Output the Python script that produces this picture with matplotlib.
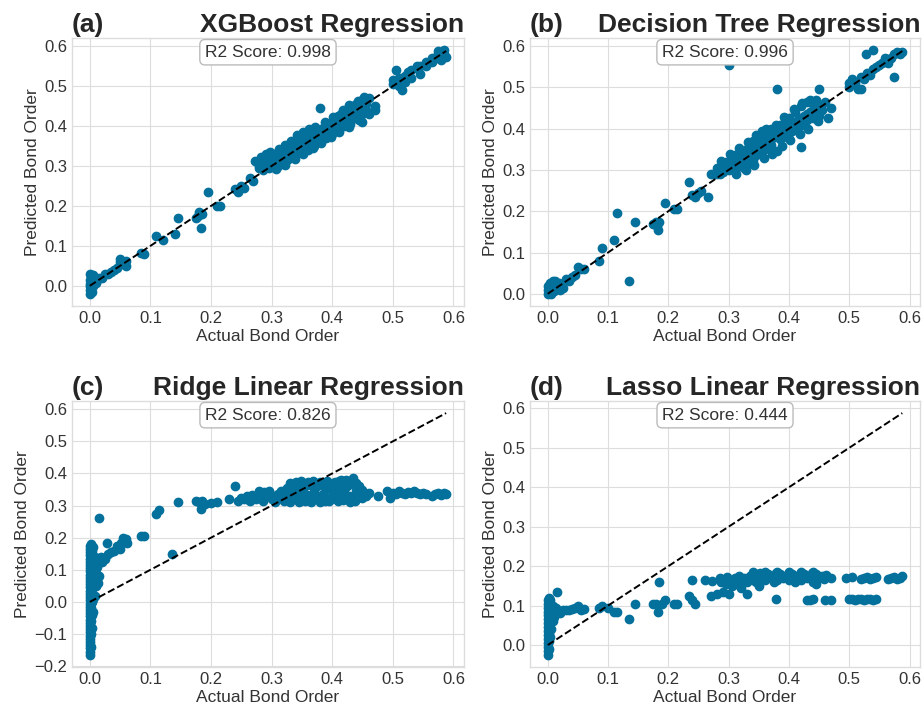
import matplotlib.pyplot as plt
from matplotlib.ticker import MultipleLocator

# (actual, predicted) bond order
xgb_points = [
    (0.000, -0.020), (0.000, -0.010), (0.000, 0.000), (0.001, 0.030), (0.001, 0.015),
    (0.002, -0.005), (0.002, 0.025), (0.003, 0.010), (0.003, -0.015), (0.004, 0.020),
    (0.004, 0.005), (0.005, 0.028), (0.005, 0.000), (0.006, 0.015), (0.006, 0.022),
    (0.007, 0.010), (0.008, 0.020), (0.009, 0.012), (0.010, 0.008), (0.001, 0.005),
    (0.012, 0.015), (0.015, 0.020), (0.020, 0.020), (0.025, 0.030), (0.030, 0.030),
    (0.035, 0.035), (0.040, 0.040), (0.045, 0.045), (0.050, 0.060), (0.050, 0.067),
    (0.055, 0.055), (0.060, 0.050), (0.060, 0.062), (0.085, 0.082), (0.090, 0.080),
    (0.110, 0.125), (0.120, 0.115), (0.140, 0.130), (0.145, 0.170), (0.175, 0.170),
    (0.180, 0.185), (0.178, 0.175), (0.185, 0.180), (0.183, 0.145), (0.195, 0.235),
    (0.210, 0.200), (0.215, 0.200), (0.240, 0.242), (0.245, 0.235), (0.250, 0.250),
    (0.255, 0.245), (0.265, 0.270), (0.270, 0.262), (0.272, 0.312),
    (0.280, 0.300), (0.280, 0.310), (0.280, 0.295), (0.285, 0.305), (0.285, 0.320),
    (0.285, 0.290), (0.290, 0.300), (0.290, 0.315), (0.290, 0.330), (0.295, 0.305),
    (0.295, 0.295), (0.295, 0.320), (0.300, 0.310), (0.300, 0.300), (0.300, 0.325),
    (0.305, 0.305), (0.305, 0.315), (0.305, 0.330), (0.310, 0.310), (0.310, 0.320),
    (0.310, 0.300), (0.315, 0.315), (0.315, 0.325), (0.315, 0.335), (0.320, 0.320),
    (0.320, 0.330), (0.320, 0.310), (0.325, 0.325), (0.325, 0.340), (0.325, 0.315),
    (0.330, 0.330), (0.330, 0.345), (0.330, 0.320), (0.335, 0.335), (0.335, 0.350),
    (0.335, 0.325), (0.340, 0.340), (0.340, 0.355), (0.340, 0.330), (0.340, 0.365),
    (0.345, 0.345), (0.345, 0.360), (0.345, 0.335), (0.345, 0.370), (0.350, 0.350),
    (0.350, 0.365), (0.350, 0.340), (0.350, 0.375), (0.355, 0.355), (0.355, 0.370),
    (0.355, 0.345), (0.360, 0.360), (0.360, 0.370), (0.360, 0.350), (0.360, 0.340),
    (0.365, 0.365), (0.365, 0.375), (0.365, 0.355), (0.370, 0.370), (0.370, 0.380),
    (0.370, 0.360), (0.370, 0.350), (0.375, 0.375), (0.375, 0.385), (0.375, 0.365),
    (0.380, 0.380), (0.380, 0.390), (0.380, 0.370), (0.380, 0.445), (0.385, 0.385),
    (0.385, 0.395), (0.385, 0.375), (0.390, 0.390), (0.390, 0.400), (0.390, 0.380),
    (0.390, 0.370), (0.395, 0.395), (0.395, 0.405), (0.395, 0.385), (0.400, 0.400),
    (0.400, 0.410), (0.400, 0.390), (0.400, 0.380), (0.405, 0.405), (0.405, 0.420),
    (0.405, 0.395), (0.410, 0.410), (0.410, 0.425), (0.410, 0.400), (0.410, 0.390),
    (0.415, 0.415), (0.415, 0.430), (0.415, 0.405), (0.420, 0.420), (0.420, 0.435),
    (0.420, 0.410), (0.420, 0.400), (0.425, 0.425), (0.425, 0.440), (0.425, 0.415),
    (0.430, 0.430), (0.430, 0.445), (0.430, 0.420), (0.430, 0.405), (0.435, 0.435),
    (0.435, 0.450), (0.435, 0.425), (0.440, 0.440), (0.440, 0.455), (0.440, 0.430),
    (0.440, 0.420), (0.445, 0.445), (0.445, 0.460), (0.445, 0.435), (0.450, 0.450),
    (0.450, 0.465), (0.450, 0.430), (0.450, 0.410), (0.455, 0.455), (0.455, 0.440),
    (0.460, 0.470), (0.460, 0.430), (0.470, 0.450), (0.470, 0.440),
    (0.282, 0.322), (0.298, 0.335), (0.312, 0.342), (0.322, 0.352), (0.332, 0.362),
    (0.342, 0.378), (0.352, 0.385), (0.362, 0.392), (0.372, 0.398), (0.388, 0.410),
    (0.402, 0.422), (0.418, 0.440), (0.428, 0.452), (0.442, 0.462), (0.452, 0.472),
    (0.308, 0.292), (0.322, 0.302), (0.338, 0.318), (0.352, 0.330), (0.368, 0.345),
    (0.382, 0.358), (0.398, 0.372), (0.412, 0.385), (0.428, 0.398), (0.445, 0.415),
    (0.500, 0.515), (0.500, 0.505), (0.505, 0.510), (0.505, 0.540), (0.510, 0.500),
    (0.510, 0.520), (0.515, 0.520), (0.515, 0.490), (0.520, 0.525), (0.520, 0.510),
    (0.525, 0.530), (0.525, 0.535), (0.530, 0.540), (0.530, 0.520), (0.540, 0.545),
    (0.540, 0.550), (0.545, 0.550), (0.545, 0.530), (0.555, 0.560), (0.555, 0.550),
    (0.565, 0.570), (0.565, 0.560), (0.575, 0.580), (0.575, 0.587), (0.575, 0.570),
    (0.580, 0.575), (0.580, 0.565), (0.585, 0.590), (0.585, 0.580), (0.588, 0.572),
]

tree_points = [
    (0.000, 0.000), (0.000, 0.010), (0.001, 0.020), (0.002, 0.005), (0.003, 0.015),
    (0.004, 0.025), (0.005, 0.010), (0.006, 0.000), (0.007, 0.020), (0.008, 0.030),
    (0.009, 0.015), (0.010, 0.025), (0.011, 0.008), (0.012, 0.030), (0.014, 0.018),
    (0.015, 0.015), (0.018, 0.025), (0.020, 0.010), (0.020, 0.020), (0.025, 0.015),
    (0.030, 0.035), (0.035, 0.030), (0.040, 0.040), (0.045, 0.045), (0.050, 0.065),
    (0.055, 0.060), (0.060, 0.060), (0.085, 0.080), (0.090, 0.110), (0.110, 0.130),
    (0.115, 0.195), (0.135, 0.030), (0.145, 0.175), (0.175, 0.170), (0.180, 0.175),
    (0.182, 0.165), (0.183, 0.155), (0.185, 0.175), (0.195, 0.220), (0.210, 0.205),
    (0.215, 0.205), (0.235, 0.270), (0.240, 0.240), (0.245, 0.235), (0.250, 0.245),
    (0.255, 0.250), (0.265, 0.235), (0.270, 0.290), (0.275, 0.290),
    (0.280, 0.290), (0.280, 0.305), (0.285, 0.300), (0.285, 0.290), (0.290, 0.310),
    (0.290, 0.295), (0.295, 0.305), (0.295, 0.320), (0.300, 0.300), (0.300, 0.315),
    (0.300, 0.555), (0.305, 0.310), (0.305, 0.325), (0.310, 0.300), (0.310, 0.320),
    (0.310, 0.335), (0.315, 0.315), (0.315, 0.330), (0.320, 0.310), (0.320, 0.325),
    (0.320, 0.345), (0.325, 0.320), (0.325, 0.340), (0.325, 0.305), (0.330, 0.330),
    (0.330, 0.350), (0.330, 0.315), (0.335, 0.335), (0.335, 0.355), (0.335, 0.320),
    (0.340, 0.345), (0.340, 0.370), (0.340, 0.325), (0.345, 0.350), (0.345, 0.385),
    (0.345, 0.335), (0.350, 0.355), (0.350, 0.375), (0.350, 0.340), (0.355, 0.360),
    (0.355, 0.395), (0.355, 0.345), (0.360, 0.365), (0.360, 0.385), (0.360, 0.350),
    (0.365, 0.370), (0.365, 0.390), (0.365, 0.355), (0.370, 0.375), (0.370, 0.400),
    (0.370, 0.360), (0.375, 0.380), (0.375, 0.345), (0.375, 0.395), (0.380, 0.385),
    (0.380, 0.495), (0.380, 0.345), (0.385, 0.390), (0.385, 0.410), (0.385, 0.375),
    (0.390, 0.395), (0.390, 0.380), (0.395, 0.400), (0.395, 0.420), (0.395, 0.385),
    (0.400, 0.405), (0.400, 0.390), (0.400, 0.425), (0.405, 0.410), (0.405, 0.395),
    (0.410, 0.415), (0.410, 0.440), (0.410, 0.400), (0.415, 0.420), (0.415, 0.405),
    (0.420, 0.425), (0.420, 0.455), (0.420, 0.355), (0.425, 0.430), (0.425, 0.410),
    (0.430, 0.435), (0.430, 0.465), (0.430, 0.420), (0.435, 0.440), (0.435, 0.470),
    (0.440, 0.445), (0.440, 0.425), (0.440, 0.460), (0.445, 0.450), (0.445, 0.470),
    (0.450, 0.455), (0.450, 0.495), (0.450, 0.430), (0.455, 0.445), (0.460, 0.465),
    (0.465, 0.425), (0.470, 0.450),
    (0.288, 0.322), (0.302, 0.338), (0.318, 0.352), (0.332, 0.368), (0.348, 0.372),
    (0.362, 0.400), (0.378, 0.410), (0.392, 0.428), (0.408, 0.448), (0.422, 0.462),
    (0.312, 0.290), (0.328, 0.300), (0.342, 0.312), (0.358, 0.330), (0.372, 0.338),
    (0.388, 0.358), (0.402, 0.372), (0.418, 0.388), (0.432, 0.400), (0.448, 0.418),
    (0.500, 0.510), (0.500, 0.500), (0.505, 0.520), (0.510, 0.510), (0.515, 0.495),
    (0.520, 0.525), (0.520, 0.495), (0.525, 0.520), (0.530, 0.535), (0.527, 0.580),
    (0.535, 0.530), (0.540, 0.590), (0.540, 0.545), (0.545, 0.550), (0.550, 0.555),
    (0.555, 0.560), (0.560, 0.570), (0.565, 0.560), (0.570, 0.570), (0.575, 0.525),
    (0.575, 0.580), (0.580, 0.585), (0.585, 0.580), (0.588, 0.585),
]

ridge_points = [
    (0.000, -0.165), (0.000, -0.155), (0.000, -0.145), (0.000, -0.135), (0.000, -0.125),
    (0.000, -0.115), (0.000, -0.105), (0.000, -0.095), (0.000, -0.085), (0.000, -0.075),
    (0.000, -0.065), (0.000, -0.055), (0.000, -0.045), (0.000, -0.035), (0.000, -0.025),
    (0.000, -0.015), (0.000, -0.005), (0.000, 0.005), (0.000, 0.015), (0.000, 0.025),
    (0.000, 0.035), (0.000, 0.045), (0.000, 0.055), (0.000, 0.065), (0.000, 0.075),
    (0.000, 0.085), (0.000, 0.095), (0.000, 0.105), (0.000, 0.115), (0.000, 0.125),
    (0.000, 0.135), (0.000, 0.145), (0.000, 0.155), (0.000, 0.165), (0.000, 0.175),
    (0.002, -0.140), (0.002, -0.100), (0.002, -0.060), (0.002, -0.020), (0.002, 0.020),
    (0.002, 0.060), (0.002, 0.100), (0.002, 0.140), (0.002, 0.180), (0.004, -0.080),
    (0.004, -0.040), (0.004, 0.000), (0.004, 0.040), (0.004, 0.080), (0.004, 0.120),
    (0.004, 0.160), (0.006, -0.030), (0.006, 0.010), (0.006, 0.050), (0.006, 0.090),
    (0.006, 0.130), (0.006, 0.170), (0.008, 0.020), (0.008, 0.060), (0.008, 0.100),
    (0.008, 0.140), (0.010, 0.050), (0.010, 0.090), (0.010, 0.130), (0.012, 0.070),
    (0.012, 0.110), (0.014, 0.060), (0.014, 0.130), (0.016, 0.080), (0.018, 0.140),
    (0.016, 0.260), (0.020, 0.125), (0.025, 0.135), (0.028, 0.185), (0.030, 0.150),
    (0.035, 0.155), (0.040, 0.160), (0.045, 0.175), (0.050, 0.165), (0.052, 0.185),
    (0.055, 0.200), (0.060, 0.195), (0.062, 0.185), (0.085, 0.205), (0.090, 0.205),
    (0.110, 0.275), (0.115, 0.285), (0.135, 0.150), (0.145, 0.310), (0.175, 0.315),
    (0.180, 0.310), (0.183, 0.290), (0.185, 0.315), (0.190, 0.305), (0.200, 0.308),
    (0.210, 0.312), (0.230, 0.320), (0.240, 0.360), (0.245, 0.315), (0.250, 0.325),
    (0.255, 0.320), (0.260, 0.330), (0.265, 0.315), (0.270, 0.325), (0.275, 0.320),
    (0.280, 0.345), (0.285, 0.315), (0.290, 0.330), (0.295, 0.345), (0.300, 0.320),
    (0.305, 0.310), (0.310, 0.335), (0.315, 0.345), (0.320, 0.315), (0.325, 0.330),
    (0.330, 0.310), (0.335, 0.340), (0.340, 0.320), (0.345, 0.310), (0.350, 0.335),
    (0.355, 0.315), (0.360, 0.325), (0.365, 0.310), (0.370, 0.330), (0.375, 0.320),
    (0.380, 0.312), (0.385, 0.335), (0.390, 0.320), (0.395, 0.315), (0.400, 0.330),
    (0.405, 0.325), (0.410, 0.315), (0.415, 0.335), (0.420, 0.325), (0.425, 0.320),
    (0.430, 0.312), (0.435, 0.330), (0.440, 0.320), (0.445, 0.335), (0.450, 0.325),
    (0.455, 0.330), (0.460, 0.340), (0.325, 0.355), (0.330, 0.370), (0.335, 0.360),
    (0.340, 0.375), (0.345, 0.365), (0.350, 0.370), (0.355, 0.360), (0.360, 0.375),
    (0.365, 0.365), (0.370, 0.370), (0.375, 0.360), (0.380, 0.375), (0.385, 0.365),
    (0.390, 0.355), (0.395, 0.370), (0.400, 0.360), (0.405, 0.375), (0.410, 0.365),
    (0.415, 0.380), (0.420, 0.370), (0.425, 0.360), (0.430, 0.375), (0.435, 0.385),
    (0.440, 0.370), (0.445, 0.360), (0.450, 0.350), (0.320, 0.345), (0.345, 0.345),
    (0.370, 0.345), (0.400, 0.345), (0.420, 0.348), (0.440, 0.345), (0.475, 0.330),
    (0.302, 0.328), (0.308, 0.318), (0.318, 0.325), (0.328, 0.322), (0.338, 0.330),
    (0.348, 0.322), (0.358, 0.332), (0.368, 0.320), (0.378, 0.328), (0.388, 0.315),
    (0.398, 0.322), (0.408, 0.335), (0.418, 0.318), (0.428, 0.330), (0.438, 0.315),
    (0.338, 0.368), (0.348, 0.378), (0.358, 0.368), (0.368, 0.378), (0.378, 0.368),
    (0.392, 0.378), (0.402, 0.368), (0.412, 0.378), (0.422, 0.380), (0.432, 0.366),
    (0.262, 0.318), (0.268, 0.332), (0.278, 0.328), (0.288, 0.342), (0.298, 0.336),
    (0.490, 0.345), (0.495, 0.325), (0.500, 0.340), (0.505, 0.335), (0.510, 0.345),
    (0.515, 0.340), (0.520, 0.335), (0.525, 0.342), (0.530, 0.338), (0.535, 0.345),
    (0.540, 0.340), (0.545, 0.335), (0.550, 0.340), (0.555, 0.335), (0.565, 0.330),
    (0.570, 0.335), (0.575, 0.340), (0.580, 0.332), (0.585, 0.340), (0.588, 0.335),
]

lasso_points = [
    (0.000, -0.025), (0.000, -0.015), (0.000, -0.005), (0.000, 0.005), (0.000, 0.015),
    (0.000, 0.025), (0.000, 0.035), (0.000, 0.045), (0.000, 0.055), (0.000, 0.065),
    (0.000, 0.075), (0.000, 0.085), (0.000, 0.095), (0.000, 0.105), (0.000, 0.115),
    (0.002, -0.010), (0.002, 0.010), (0.002, 0.030), (0.002, 0.050), (0.002, 0.070),
    (0.002, 0.090), (0.002, 0.110), (0.002, 0.120), (0.004, 0.020), (0.004, 0.040),
    (0.004, 0.060), (0.004, 0.080), (0.004, 0.100), (0.004, 0.115), (0.006, 0.040),
    (0.006, 0.060), (0.006, 0.080), (0.006, 0.100), (0.008, 0.060), (0.008, 0.080),
    (0.008, 0.100), (0.010, 0.070), (0.010, 0.090), (0.012, 0.085), (0.014, 0.095),
    (0.016, 0.135), (0.018, 0.085), (0.020, 0.080), (0.025, 0.090), (0.030, 0.090),
    (0.035, 0.088), (0.040, 0.092), (0.045, 0.095), (0.050, 0.098), (0.055, 0.090),
    (0.060, 0.092), (0.085, 0.095), (0.090, 0.098), (0.100, 0.095), (0.110, 0.085),
    (0.115, 0.085), (0.135, 0.065), (0.145, 0.105), (0.175, 0.105), (0.180, 0.105),
    (0.183, 0.085), (0.185, 0.160), (0.190, 0.105), (0.195, 0.115), (0.210, 0.105),
    (0.215, 0.105), (0.235, 0.125), (0.240, 0.115), (0.245, 0.105), (0.240, 0.165),
    (0.260, 0.165), (0.270, 0.125), (0.272, 0.162), (0.280, 0.130), (0.285, 0.170),
    (0.290, 0.135), (0.295, 0.155), (0.300, 0.165), (0.300, 0.130), (0.305, 0.150),
    (0.310, 0.170), (0.315, 0.160), (0.320, 0.145), (0.325, 0.170), (0.330, 0.160),
    (0.330, 0.130), (0.335, 0.175), (0.340, 0.165), (0.345, 0.180), (0.350, 0.170),
    (0.350, 0.150), (0.355, 0.175), (0.360, 0.165), (0.365, 0.180), (0.370, 0.170),
    (0.375, 0.175), (0.378, 0.118), (0.380, 0.165), (0.385, 0.180), (0.390, 0.170),
    (0.395, 0.175), (0.400, 0.165), (0.405, 0.180), (0.410, 0.170), (0.415, 0.175),
    (0.420, 0.165), (0.425, 0.180), (0.430, 0.170), (0.435, 0.175), (0.440, 0.160),
    (0.445, 0.180), (0.450, 0.170), (0.455, 0.175), (0.340, 0.185), (0.360, 0.185),
    (0.380, 0.185), (0.400, 0.185), (0.420, 0.185), (0.440, 0.185), (0.310, 0.155),
    (0.345, 0.160), (0.375, 0.160), (0.410, 0.160), (0.445, 0.155), (0.470, 0.170),
    (0.288, 0.160), (0.298, 0.172), (0.308, 0.162), (0.318, 0.175), (0.328, 0.168),
    (0.338, 0.178), (0.348, 0.172), (0.358, 0.180), (0.368, 0.176), (0.378, 0.182),
    (0.388, 0.174), (0.398, 0.180), (0.408, 0.172), (0.418, 0.180), (0.428, 0.174),
    (0.438, 0.182), (0.448, 0.176), (0.458, 0.168), (0.462, 0.178), (0.352, 0.182),
    (0.495, 0.170), (0.505, 0.172), (0.520, 0.168), (0.525, 0.170), (0.530, 0.172),
    (0.535, 0.168), (0.540, 0.170), (0.545, 0.172), (0.565, 0.168), (0.570, 0.170),
    (0.575, 0.172), (0.580, 0.168), (0.585, 0.170), (0.588, 0.175), (0.430, 0.115),
    (0.435, 0.115), (0.440, 0.117), (0.460, 0.115), (0.470, 0.115), (0.500, 0.117),
    (0.505, 0.118), (0.510, 0.115), (0.515, 0.117), (0.520, 0.118), (0.525, 0.115),
    (0.530, 0.117), (0.535, 0.118), (0.540, 0.115), (0.545, 0.117),
]

titles = ['XGBoost Regression', 'Decision Tree Regression',
          'Ridge Linear Regression', 'Lasso Linear Regression']
panel_tags = ['(a)', '(b)', '(c)', '(d)']
r2_scores = [0.998, 0.996, 0.826, 0.444]

plt.style.use('seaborn-v0_8-whitegrid')
plt.rcParams['font.family'] = ['Liberation Sans', 'DejaVu Sans']

fig = plt.figure(figsize=(9.24, 7.08), dpi=100)
boxes = [
    [0.0779, 0.5678, 0.4242, 0.3785],
    [0.5736, 0.5678, 0.4221, 0.3785],
    [0.0779, 0.0579, 0.4242, 0.3757],
    [0.5736, 0.0579, 0.4221, 0.3757],
]
all_points = [xgb_points, tree_points, ridge_points, lasso_points]

for i in range(4):
    ax = fig.add_axes(boxes[i])
    actual = [p[0] for p in all_points[i]]
    pred = [p[1] for p in all_points[i]]
    ax.scatter(actual, pred, s=36, color='#04709c', zorder=2)
    lo, hi = min(actual), max(actual)
    ax.plot([lo, hi], [lo, hi], 'k--', lw=1.4, zorder=3)

    ax.xaxis.set_major_locator(MultipleLocator(0.1))
    ax.yaxis.set_major_locator(MultipleLocator(0.1))
    ax.set_xlabel('Actual Bond Order', fontsize=12.5, color='#333333', labelpad=2)
    ax.set_ylabel('Predicted Bond Order', fontsize=12.5, color='#333333', labelpad=3)
    ax.tick_params(labelsize=12, colors='#333333')
    ax.set_title(panel_tags[i], loc='left', fontsize=19, fontweight='bold', pad=4)
    ax.set_title(titles[i], loc='right', fontsize=19, fontweight='bold', pad=4)
    ax.text(0.5, 0.975, f'R2 Score: {r2_scores[i]}', transform=ax.transAxes,
            ha='center', va='top', fontsize=12.5, color='#333333', zorder=5,
            bbox=dict(boxstyle='round,pad=0.3', facecolor='white', edgecolor='#bbbbbb'))
    for s in ax.spines.values():
        s.set_color('#dddddd')
    ax.grid(color='#dddddd')

fig.savefig('out.png', dpi=100)
